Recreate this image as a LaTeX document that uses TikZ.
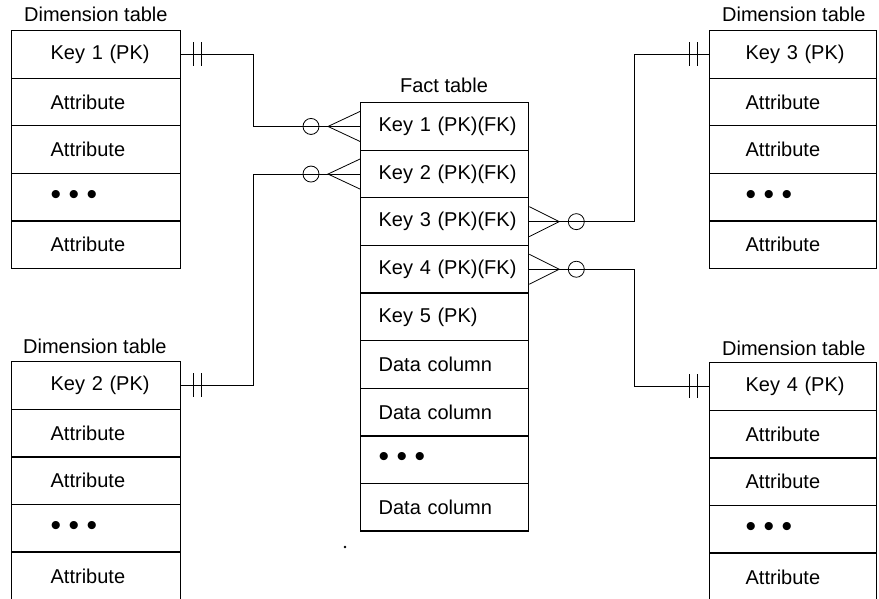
\documentclass[tikz,border=0pt]{standalone}
\usepackage{fontspec}
\setmainfont{Liberation Sans}
\newcommand\cellfont{\fontsize{20}{24}\selectfont}
\newcommand\bigdot{\raisebox{-2.5pt}{\fontsize{30}{24}\selectfont•}}
\newcommand\dotsrow{\bigdot\hspace{7.5pt}\bigdot\hspace{7.5pt}\bigdot}
\tikzset{
  tbl/.style={draw, line width=1.3pt, rectangle, inner xsep=0pt, inner ysep=0pt,
    minimum height=47.6pt, text width=#1, align=left, anchor=north west, font=\cellfont},
  conn/.style={line width=0.8pt},
  ttl/.style={inner sep=0pt, font=\cellfont},
}
\begin{document}
\begin{tikzpicture}[x=1pt,y=-1pt]
\useasboundingbox (0,0) rectangle (879,599);
% titles
\node[ttl, anchor=base west] (ta) at (24,22) {Dimension table};
\node[ttl, anchor=base west] (tc) at (722,22) {Dimension table};
\node[ttl, anchor=base west] (tb) at (23,353) {Dimension table};
\node[ttl, anchor=base west] (td) at (722,355) {Dimension table};
\node[ttl, anchor=base] (tf) at (444,93) {Fact table};
% top-left dimension table
\foreach \t [count=\i from 0] in {Key 1 (PK),Attribute,Attribute,\dotsrow,Attribute}
  \node[tbl=169pt] (a\i) at (11,30+47.6*\i) {\hspace*{39pt}\t};
% bottom-left dimension table
\foreach \t [count=\i from 0] in {Key 2 (PK),Attribute,Attribute,\dotsrow,Attribute}
  \node[tbl=169pt] (b\i) at (11,361+47.6*\i) {\hspace*{39pt}\t};
% top-right dimension table
\foreach \t [count=\i from 0] in {Key 3 (PK),Attribute,Attribute,\dotsrow,Attribute}
  \node[tbl=167pt] (c\i) at (709,30+47.6*\i) {\hspace*{36pt}\t};
% bottom-right dimension table
\foreach \t [count=\i from 0] in {Key 4 (PK),Attribute,Attribute,\dotsrow,Attribute}
  \node[tbl=167pt] (d\i) at (709,362+47.6*\i) {\hspace*{36pt}\t};
% fact table
\foreach \t [count=\i from 0] in {Key 1 (PK)(FK),Key 2 (PK)(FK),Key 3 (PK)(FK),Key 4 (PK)(FK),Key 5 (PK),Data column,Data column,\dotsrow,Data column}
  \node[tbl=168pt] (f\i) at (360,102+47.6*\i) {\hspace*{18pt}\t};
% junction columns
\coordinate (jl) at (253,0);
\coordinate (jr) at (634,0);
% connectors
\draw[conn] (a0.east) -- (a0.east -| jl) -- (jl |- f0.west) -- (f0.west);
\draw[conn] (b0.east) -- (b0.east -| jl) -- (jl |- f1.west) -- (f1.west);
\draw[conn] (c0.west) -- (c0.west -| jr) -- (jr |- f2.east) -- (f2.east);
\draw[conn] (d0.west) -- (d0.west -| jr) -- (jr |- f3.east) -- (f3.east);
% "one and only one" bars
\foreach \s in {12,20} {
  \draw[conn] ([shift={(\s,-12)}]a0.east) -- ([shift={(\s,12)}]a0.east);
  \draw[conn] ([shift={(\s,-12)}]b0.east) -- ([shift={(\s,12)}]b0.east);
  \draw[conn] ([shift={(-\s,-12)}]c0.west) -- ([shift={(-\s,12)}]c0.west);
  \draw[conn] ([shift={(-\s,-12)}]d0.west) -- ([shift={(-\s,12)}]d0.west);
}
% "zero or many" crow's feet
\foreach \r in {f0,f1} {
  \draw[conn] ([shift={(0,-15)}]\r.west) -- ([shift={(-32,0)}]\r.west) -- ([shift={(0,15)}]\r.west);
  \draw[conn] ([shift={(-49,0)}]\r.west) circle[radius=8];
}
\foreach \r in {f2,f3} {
  \draw[conn] ([shift={(0,-15)}]\r.east) -- ([shift={(30,0)}]\r.east) -- ([shift={(0,15)}]\r.east);
  \draw[conn] ([shift={(47,0)}]\r.east) circle[radius=8];
}
% stray speck
\fill (345,547) circle[radius=1.3];
\end{tikzpicture}
\end{document}
